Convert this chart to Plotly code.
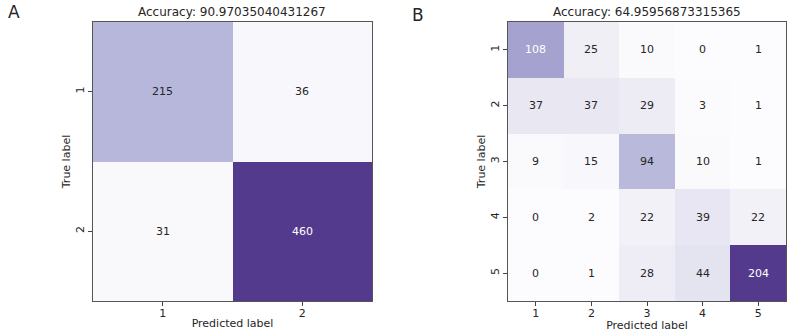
import plotly.graph_objects as go

labels_a = ["1", "2"]
cm_a = [[215, 36],
        [31, 460]]
title_a = "Accuracy: 90.97035040431267"

labels_b = ["1", "2", "3", "4", "5"]
cm_b = [[108, 25, 10, 0, 1],
        [37, 37, 29, 3, 1],
        [9, 15, 94, 10, 1],
        [0, 2, 22, 39, 22],
        [0, 1, 28, 44, 204]]
title_b = "Accuracy: 64.95956873315365"

colorscale = [
    [0.0, "rgb(252,251,253)"],
    [0.08, "rgb(248,247,251)"],
    [0.12, "rgb(240,239,246)"],
    [0.2, "rgb(230,229,241)"],
    [0.35, "rgb(208,208,232)"],
    [0.46, "rgb(184,185,219)"],
    [0.53, "rgb(165,162,207)"],
    [0.75, "rgb(125,108,180)"],
    [1.0, "rgb(84,58,141)"],
]

FONT = "DejaVu Sans"
fig = go.Figure()

panels = [
    (labels_a, cm_a, title_a, "x", "y", [93 / 789, 372 / 789]),
    (labels_b, cm_b, title_b, "x2", "y2", [508 / 789, 786 / 789]),
]
ydom = [31 / 332, 310 / 332]
annotations = []
for idx, (labs, cm, title, xa, ya, xdom) in enumerate(panels):
    n = len(labs)
    zmax = max(max(r) for r in cm)
    xs = [i + 1 for i in range(n)]
    fig.add_trace(go.Heatmap(
        z=cm, x=xs, y=xs, xaxis=xa, yaxis=ya,
        colorscale=colorscale, zmin=0, zmax=zmax, showscale=False,
        hoverinfo="skip", xgap=0, ygap=0,
    ))
    for r in range(n):
        for c in range(n):
            v = cm[r][c]
            annotations.append(dict(
                x=c + 1, y=r + 1, xref=xa, yref=ya, text=str(v), showarrow=False,
                font=dict(family=FONT, size=11,
                          color="white" if v > zmax / 2 else "#262626"),
            ))
    axname = "xaxis" if idx == 0 else "xaxis2"
    ayname = "yaxis" if idx == 0 else "yaxis2"
    fig.update_layout(**{
        axname: dict(domain=xdom, anchor=ya, range=[0.5, n + 0.5], automargin=False,
                     tickvals=xs, ticktext=labs, ticks="outside", ticklen=4,
                     ticklabelstandoff=-2,
                     tickcolor="#444", showline=True, linecolor="#555",
                     linewidth=1, mirror=True, showgrid=False, zeroline=False,
                     tickfont=dict(family=FONT, size=11, color="#262626"),
                     title=dict(text="Predicted label", standoff=0,
                                font=dict(family=FONT, size=11, color="#262626"))),
        ayname: dict(domain=ydom, anchor=xa, range=[n + 0.5, 0.5], automargin=False,
                     tickvals=xs, ticktext=labs, ticks="outside", ticklen=4,
                     tickangle=-90,
                     tickcolor="#444", showline=True, linecolor="#555",
                     linewidth=1, mirror=True, showgrid=False, zeroline=False,
                     tickfont=dict(family=FONT, size=11, color="#262626"),
                     title=dict(text="True label", standoff=0,
                                font=dict(family=FONT, size=11, color="#262626"))),
    })
    annotations.append(dict(
        x=(xdom[0] + xdom[1]) / 2, y=ydom[1], xref="paper", yref="paper",
        xanchor="center", yanchor="bottom", yshift=1, text=title, showarrow=False,
        font=dict(family=FONT, size=12, color="#262626"),
    ))

annotations.append(dict(x=0.008, y=1.0, xref="paper", yref="paper", xanchor="left",
                        yanchor="top", text="A", showarrow=False,
                        font=dict(family=FONT, size=17, color="#262626")))
annotations.append(dict(x=0.52, y=0.99, xref="paper", yref="paper", xanchor="left",
                        yanchor="top", text="B", showarrow=False,
                        font=dict(family=FONT, size=17, color="#262626")))

fig.update_layout(
    width=789, height=332, margin=dict(l=0, r=0, t=0, b=0, autoexpand=False),
    paper_bgcolor="white", plot_bgcolor="white",
    annotations=annotations, showlegend=False,
)
fig.write_html("out.html", config={"displayModeBar": False},
               post_script="document.body.style.margin='0';document.body.style.overflow='hidden';")
